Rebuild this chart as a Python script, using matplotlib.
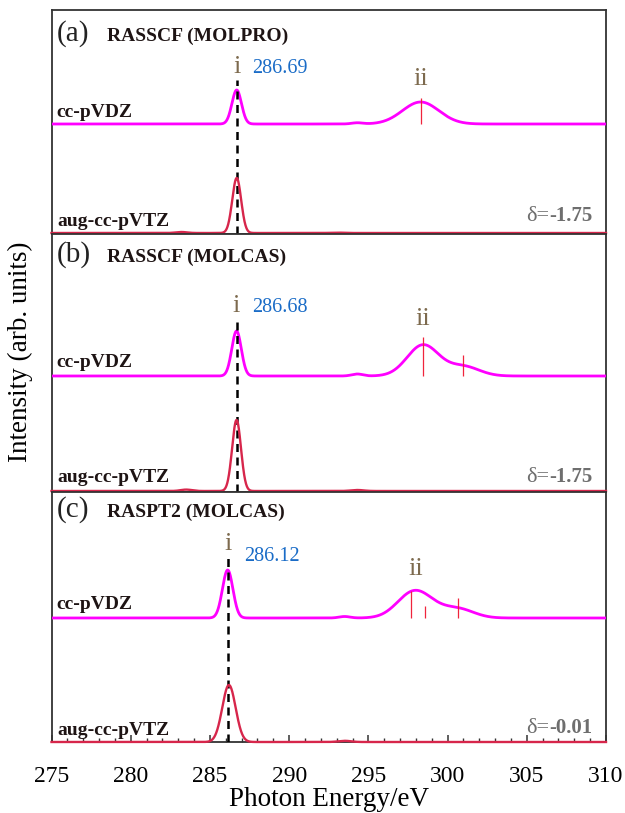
import numpy as np
import matplotlib
matplotlib.use("Agg")
import matplotlib.pyplot as plt
from matplotlib.ticker import MultipleLocator

plt.rcParams["font.family"] = ["Liberation Serif", "DejaVu Serif"]

# ---- data -----------------------------------------------------------------
energy_min, energy_max = 275, 310
panel_tags = ["(a)", "(b)", "(c)"]
panel_methods = ["RASSCF (MOLPRO)", "RASSCF (MOLCAS)", "RASPT2 (MOLCAS)"]
basis_labels = ["cc-pVDZ", "aug-cc-pVTZ"]
peak_i_energy = [286.69, 286.68, 286.12]
peak_ii_energy = [298.3, 298.45, 298.0]
delta_values = ["-1.75", "-1.75", "-0.01"]

# broadened transitions: (center eV, height, gaussian sigma eV)
vdz_peaks = [
    [(286.69, 0.34, 0.30), (294.3, 0.012, 0.35), (298.3, 0.22, 1.15)],
    [(286.68, 0.45, 0.30), (294.3, 0.020, 0.35), (298.45, 0.31, 1.00), (301.0, 0.095, 1.00)],
    [(286.12, 0.48, 0.33), (293.5, 0.015, 0.35), (297.7, 0.20, 1.00), (298.6, 0.10, 1.00), (300.66, 0.09, 1.00)],
]
avtz_peaks = [
    [(283.2, 0.010, 0.35), (286.69, 0.55, 0.28), (293.0, 0.004, 0.40)],
    [(283.5, 0.014, 0.35), (286.68, 0.71, 0.28), (294.3, 0.010, 0.40)],
    [(286.20, 0.57, 0.42), (293.5, 0.012, 0.40)],
]
# stick transitions on the cc-pVDZ curve: (energy eV, stick length)
vdz_sticks = [
    [(298.3, 0.26)],
    [(298.45, 0.39), (301.0, 0.21)],
    [(297.7, 0.27), (298.6, 0.12), (300.66, 0.20)],
]

# ---- layout (pixel geometry of a 625 x 813 canvas) -------------------------
W, H = 625, 813
left_px, right_px = 51.5, 606
panel_edges = [10, 234, 492, 742]
vdz_base = [1.10, 1.16, 1.24]
avtz_base = [0.01, 0.01, 0.0]

label_y = {  # baselines of text, in panel units (pixels/100 from panel bottom)
    "tag": [1.93, 2.30, 2.25],
    "i": [1.61, 1.80, 1.92],
    "val": [1.61, 1.80, 1.81],
    "ii": [1.49, 1.67, 1.67],
    "vdz": [1.17, 1.25, 1.33],
    "avtz": [0.08, 0.10, 0.07],
    "delta": [0.13, 0.10, 0.09],
    "dash_top": [1.54, 1.75, 1.87],
}
value_x = [287.65, 287.65, 287.15]

magenta = "#ff00ff"
crimson = "#d7264b"
stick_col = "#f0243c"
brown = "#7d6a4e"
blue = "#1a6cc7"
grey = "#6e6e6e"
frame = "#333333"


def spectrum(x, peaks):
    y = np.zeros_like(x)
    for c, h, s in peaks:
        y += h * np.exp(-0.5 * ((x - c) / s) ** 2)
    return y


fig = plt.figure(figsize=(W / 100, H / 100), dpi=100)
x = np.linspace(energy_min, energy_max, 3000)

axes = []
for k in range(3):
    top, bot = panel_edges[k], panel_edges[k + 1]
    ax = fig.add_axes([left_px / W, 1 - bot / H, (right_px - left_px) / W, (bot - top) / H])
    ax.set_xlim(energy_min, energy_max)
    ax.set_ylim(0, (bot - top) / 100)
    ax.set_yticks([])
    for sp in ax.spines.values():
        sp.set_color(frame)
        sp.set_linewidth(1.3)
    axes.append(ax)

    # spectra
    ax.plot(x, vdz_base[k] + spectrum(x, vdz_peaks[k]), color=magenta, lw=2.0, zorder=3)
    ax.plot(x, avtz_base[k] + spectrum(x, avtz_peaks[k]), color=crimson, lw=1.7,
            zorder=6, clip_on=False)
    for e, length in vdz_sticks[k]:
        ax.vlines(e, vdz_base[k], vdz_base[k] + length, color=stick_col, lw=0.9, zorder=4)

    # dashed guide at peak i
    ax.vlines(peak_i_energy[k], 0, label_y["dash_top"][k], color="black", lw=1.8,
              linestyles=(0, (3.2, 2.2)), zorder=5)

    # annotations
    ax.text(275.35, label_y["tag"][k], panel_tags[k], fontsize=21, va="baseline",
            ha="left", color="#222222")
    ax.text(278.5, label_y["tag"][k], panel_methods[k], fontsize=14, fontweight="bold",
            va="baseline", ha="left", color="#1e1414")
    ax.text(peak_i_energy[k], label_y["i"][k], "i", fontsize=19, color=brown,
            ha="center", va="baseline")
    ax.text(value_x[k], label_y["val"][k], f"{peak_i_energy[k]:.2f}", fontsize=14.5,
            color=blue, ha="left", va="baseline")
    ax.text(peak_ii_energy[k], label_y["ii"][k], "ii", fontsize=19, color=brown,
            ha="center", va="baseline")
    ax.text(275.3, label_y["vdz"][k], basis_labels[0], fontsize=14, fontweight="bold",
            color="#1e1414", ha="left", va="baseline", zorder=7)
    ax.text(275.35, label_y["avtz"][k], basis_labels[1], fontsize=14, fontweight="bold",
            color="#1e1414", ha="left", va="baseline", zorder=7)
    dv = ax.text(309.15, label_y["delta"][k], delta_values[k], fontsize=15,
                 fontweight="bold", color=grey, ha="right", va="baseline")
    ax.annotate("\u03b4=", xy=(0, 0), xycoords=dv, xytext=(0, 0),
                textcoords="offset points", fontsize=16, color=grey,
                ha="right", va="bottom")

    if k < 2:
        ax.set_xticks([])
    else:
        ax.xaxis.set_major_locator(MultipleLocator(5))
        ax.xaxis.set_minor_locator(MultipleLocator(1))
        ax.tick_params(axis="x", which="major", direction="in", length=5, width=1.1,
                       color=frame, labelsize=17, pad=17)
        ax.tick_params(axis="x", which="minor", direction="in", length=3, width=1.0,
                       color=frame)
        ax.set_xlabel("Photon Energy/eV", fontsize=19.5, labelpad=0)

fig.text(20 / W, 1 - 352 / H, "Intensity (arb. units)", rotation=90, fontsize=19.5,
         ha="center", va="center")

fig.savefig("out.png", dpi=100)
